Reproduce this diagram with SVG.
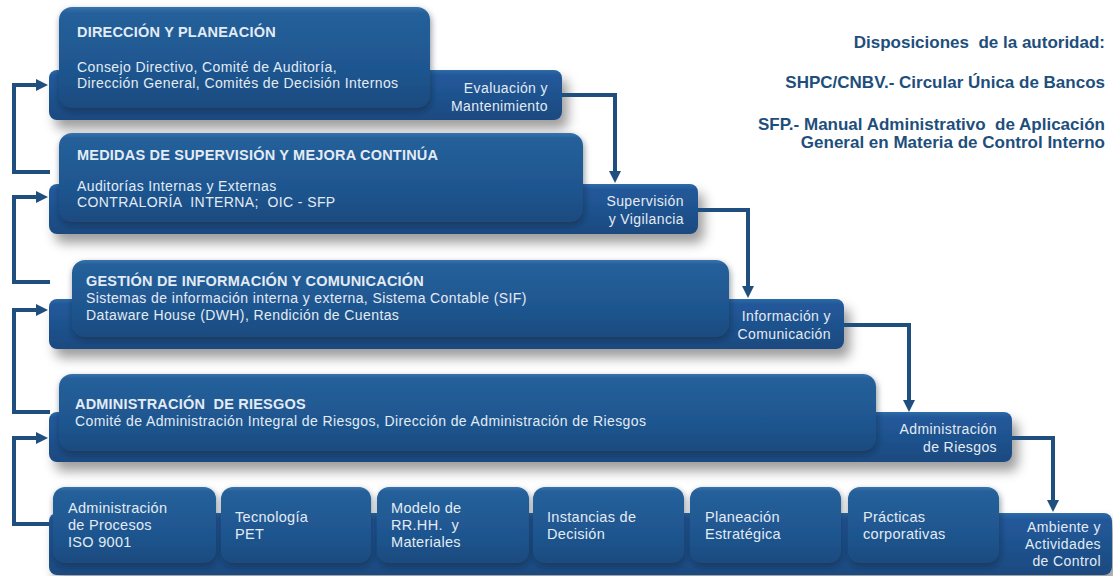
<svg xmlns="http://www.w3.org/2000/svg" width="1113" height="576" viewBox="0 0 1113 576">
<defs>
<linearGradient id="gBox" x1="0" y1="0" x2="0" y2="1">
<stop offset="0" stop-color="#3673ad"/>
<stop offset="0.06" stop-color="#25609a"/>
<stop offset="0.6" stop-color="#1f5690"/>
<stop offset="1" stop-color="#1a4b7f"/>
</linearGradient>
<linearGradient id="gSlab" x1="0" y1="0" x2="0" y2="1">
<stop offset="0" stop-color="#2f6ba6"/>
<stop offset="0.1" stop-color="#22599a"/>
<stop offset="1" stop-color="#1a4a80"/>
</linearGradient>
<filter id="sh" x="-5%" y="-20%" width="115%" height="170%">
<feDropShadow dx="6" dy="9" stdDeviation="6" flood-color="#000" flood-opacity="0.38"/>
</filter>
<filter id="sh2" x="-5%" y="-20%" width="115%" height="160%">
<feDropShadow dx="1" dy="3" stdDeviation="3" flood-color="#0a1e33" flood-opacity="0.5"/>
</filter>
<marker id="ah" viewBox="0 0 12 12" markerWidth="12" markerHeight="12" refX="4" refY="6" orient="auto" markerUnits="userSpaceOnUse">
<path d="M0,0 L12,6 L0,12 z" fill="#1f4f7e"/>
</marker>
<style>
.slab{fill:url(#gSlab);filter:url(#sh)}
.box{fill:url(#gBox);filter:url(#sh2)}
.t{font-family:"Liberation Sans",Arial,sans-serif;fill:#e3ebf4;white-space:pre}
.h{font-size:14.5px;font-weight:bold;letter-spacing:0.2px}
.b{font-size:14px;letter-spacing:0.4px}
.tab{font-size:14px;letter-spacing:0.4px;text-anchor:end}
.bt{font-size:14.5px;letter-spacing:0.3px}
.r{font-family:"Liberation Sans",Arial,sans-serif;font-size:17px;font-weight:bold;fill:#1e4f7c;text-anchor:end;white-space:pre}
.c{fill:none;stroke:#1f4f7e;stroke-width:4;stroke-linejoin:miter}
</style>
</defs>
<rect width="1113" height="576" fill="#ffffff"/>

<g id="header">
<text class="r" x="1105" y="48">Disposiciones  de la autoridad:</text>
<text class="r" x="1105" y="88">SHPC/CNBV.- Circular Única de Bancos</text>
<text class="r" x="1105" y="130">SFP.- Manual Administrativo  de Aplicación</text>
<text class="r" x="1105" y="148">General en Materia de Control Interno</text>
</g>

<g id="n1">
<rect class="slab" x="49" y="70" width="513" height="50" rx="8"/>
<rect class="box" x="59" y="7" width="371" height="101" rx="13"/>
<text class="t h" x="77" y="37">DIRECCIÓN Y PLANEACIÓN</text>
<text class="t b" x="77" y="72">Consejo Directivo, Comité de Auditoría,</text>
<text class="t b" x="77" y="88">Dirección General, Comités de Decisión Internos</text>
<text class="t tab" x="548" y="93">Evaluación y</text>
<text class="t tab" x="548" y="111">Mantenimiento</text>
</g>

<g id="n2">
<rect class="slab" x="49" y="184" width="649" height="50" rx="8"/>
<rect class="box" x="59" y="133" width="524" height="89" rx="13"/>
<text class="t h" x="77" y="160">MEDIDAS DE SUPERVISIÓN Y MEJORA CONTINÚA</text>
<text class="t b" x="77" y="191">Auditorías Internas y Externas</text>
<text class="t b" x="77" y="207">CONTRALORÍA  INTERNA;  OIC - SFP</text>
<text class="t tab" x="684" y="206">Supervisión</text>
<text class="t tab" x="684" y="224">y Vigilancia</text>
</g>

<g id="n3">
<rect class="slab" x="49" y="299" width="795" height="50" rx="8"/>
<rect class="box" x="72" y="260" width="657" height="77" rx="13"/>
<text class="t h" x="86" y="286">GESTIÓN DE INFORMACIÓN Y COMUNICACIÓN</text>
<text class="t b" x="86" y="303">Sistemas de información interna y externa, Sistema Contable (SIF)</text>
<text class="t b" x="86" y="320">Dataware House (DWH), Rendición de Cuentas</text>
<text class="t tab" x="831" y="321">Información y</text>
<text class="t tab" x="831" y="339">Comunicación</text>
</g>

<g id="n4">
<rect class="slab" x="49" y="412" width="963" height="50" rx="8"/>
<rect class="box" x="59" y="374" width="817" height="77" rx="13"/>
<text class="t h" x="75" y="409">ADMINISTRACIÓN  DE RIESGOS</text>
<text class="t b" x="75" y="426">Comité de Administración Integral de Riesgos, Dirección de Administración de Riesgos</text>
<text class="t tab" x="997" y="434">Administración</text>
<text class="t tab" x="997" y="452">de Riesgos</text>
</g>

<g id="n5">
<rect class="slab" x="49" y="513" width="1063" height="62" rx="8"/>
<text class="t tab" x="1101" y="532">Ambiente y</text>
<text class="t tab" x="1101" y="549">Actividades</text>
<text class="t tab" x="1101" y="566">de Control</text>
</g>

<g id="n5a">
<rect class="box" x="53" y="487" width="163" height="76" rx="12"/>
<text class="t bt" x="68" y="513">Administración</text>
<text class="t bt" x="68" y="530">de Procesos</text>
<text class="t bt" x="68" y="547">ISO 9001</text>
</g>
<g id="n5b">
<rect class="box" x="221" y="487" width="150" height="76" rx="12"/>
<text class="t bt" x="235" y="522">Tecnología</text>
<text class="t bt" x="235" y="539">PET</text>
</g>
<g id="n5c">
<rect class="box" x="377" y="487" width="152" height="76" rx="12"/>
<text class="t bt" x="391" y="513">Modelo de</text>
<text class="t bt" x="391" y="530">RR.HH.  y</text>
<text class="t bt" x="391" y="547">Materiales</text>
</g>
<g id="n5d">
<rect class="box" x="533" y="487" width="151" height="76" rx="12"/>
<text class="t bt" x="547" y="522">Instancias de</text>
<text class="t bt" x="547" y="539">Decisión</text>
</g>
<g id="n5e">
<rect class="box" x="690" y="487" width="151" height="76" rx="12"/>
<text class="t bt" x="705" y="522">Planeación</text>
<text class="t bt" x="705" y="539">Estratégica</text>
</g>
<g id="n5f">
<rect class="box" x="848" y="487" width="151" height="76" rx="12"/>
<text class="t bt" x="863" y="522">Prácticas</text>
<text class="t bt" x="863" y="539">corporativas</text>
</g>

<g id="connectors">
<path class="c" d="M562,95 H615 V175" marker-end="url(#ah)"/>
<path class="c" d="M698,210 H748 V290" marker-end="url(#ah)"/>
<path class="c" d="M844,325 H909 V404" marker-end="url(#ah)"/>
<path class="c" d="M1012,438 H1053 V504" marker-end="url(#ah)"/>
<path class="c" d="M50,172 H14 V85 H40" marker-end="url(#ah)"/>
<path class="c" d="M50,282 H14 V197 H40" marker-end="url(#ah)"/>
<path class="c" d="M50,412 H14 V310 H40" marker-end="url(#ah)"/>
<path class="c" d="M50,524 H14 V438 H40" marker-end="url(#ah)"/>
</g>
</svg>
